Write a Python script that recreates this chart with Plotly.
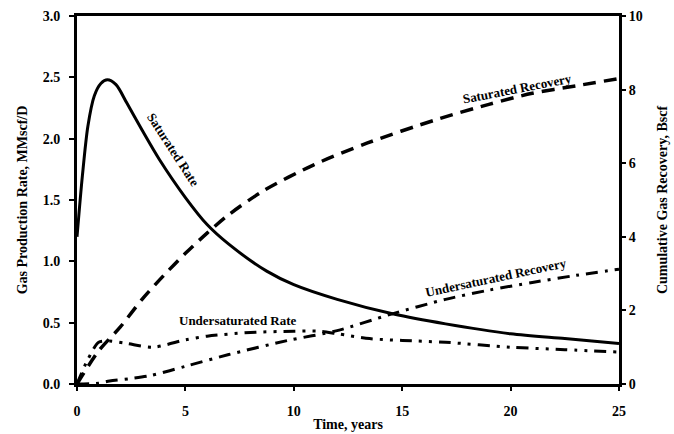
import plotly.graph_objects as go

# ---- data ----
sat_rate_t = [0, 0.25, 0.5, 0.8, 1.1, 1.4, 1.8, 2.3, 3.0, 3.8, 5.0, 6.0, 7.0, 8.75, 10.0, 12.0, 14.6, 17.0, 20.0, 22.5, 25.0]
sat_rate = [1.2, 1.7, 2.1, 2.35, 2.45, 2.48, 2.44, 2.29, 2.07, 1.83, 1.52, 1.30, 1.14, 0.92, 0.81, 0.69, 0.57, 0.49, 0.41, 0.37, 0.33]

sat_rec_t = [0, 1, 2, 3, 4, 5, 6, 7, 8.6, 10.9, 13.4, 16.5, 19, 21, 23, 25]
sat_rec = [0, 0.9, 1.55, 2.3, 2.95, 3.55, 4.1, 4.6, 5.25, 5.95, 6.55, 7.17, 7.6, 7.9, 8.1, 8.3]

und_rate_t = [0, 0.5, 1, 1.5, 2.3, 3.5, 5, 6, 8, 10, 11.2, 12, 13.5, 15, 17, 20, 22.5, 25]
und_rate = [0, 0.2, 0.34, 0.35, 0.33, 0.30, 0.36, 0.39, 0.42, 0.43, 0.43, 0.41, 0.37, 0.355, 0.34, 0.30, 0.28, 0.26]

und_rec_t = [0, 1, 1.5, 2.5, 3.4, 5, 7, 9.7, 12, 14.5, 17, 19, 21, 23, 25]
und_rec = [0, 0.02, 0.08, 0.15, 0.23, 0.48, 0.8, 1.18, 1.45, 1.9, 2.3, 2.55, 2.76, 2.95, 3.12]

x_ticks = [0, 5, 10, 15, 20, 25]
y_ticks = [0.0, 0.5, 1.0, 1.5, 2.0, 2.5, 3.0]
y2_ticks = [0, 2, 4, 6, 8, 10]

FONT = "Liberation Serif"
BLACK = "#000000"

fig = go.Figure()
fig.add_trace(go.Scatter(x=sat_rate_t, y=sat_rate, mode="lines",
                         line=dict(color=BLACK, width=3, shape="spline", smoothing=0.8),
                         yaxis="y", showlegend=False))
fig.add_trace(go.Scatter(x=und_rate_t, y=und_rate, mode="lines",
                         line=dict(color=BLACK, width=3, shape="spline", smoothing=0.8,
                                   dash="12px,7px,3px,7px,3px,7px"),
                         yaxis="y", showlegend=False))
fig.add_trace(go.Scatter(x=sat_rec_t, y=sat_rec, mode="lines",
                         line=dict(color=BLACK, width=3.5, shape="spline", smoothing=0.8,
                                   dash="13px,8px"),
                         yaxis="y2", showlegend=False))
fig.add_trace(go.Scatter(x=und_rec_t, y=und_rec, mode="lines",
                         line=dict(color=BLACK, width=3, shape="spline", smoothing=0.8,
                                   dash="12px,7px,3px,7px"),
                         yaxis="y2", showlegend=False))

tickfont = dict(family=FONT, size=14, color=BLACK, weight="bold")
titlefont = dict(family=FONT, size=14, color=BLACK, weight="bold")
ann_font = dict(family=FONT, size=13, color=BLACK, weight="bold")

fig.update_layout(
    width=674, height=434,
    margin=dict(l=77, r=55, t=16, b=50),
    paper_bgcolor="white", plot_bgcolor="white",
    xaxis=dict(range=[0, 25], tickvals=x_ticks, ticktext=[str(v) for v in x_ticks],
               showgrid=False, zeroline=False, showline=True, linecolor=BLACK, linewidth=3,
               mirror=True, ticks="outside", ticklen=4, tickwidth=2, tickcolor=BLACK,
               tickfont=tickfont, ticklabelstandoff=8, automargin=False,
               title=dict(text="Time, years", font=titlefont, standoff=2)),
    yaxis=dict(range=[0, 3.0], tickvals=y_ticks, ticktext=[f"{v:.1f}" for v in y_ticks],
               showgrid=False, zeroline=False, showline=True, linecolor=BLACK, linewidth=3,
               ticks="outside", ticklen=5, tickwidth=2, tickcolor=BLACK,
               tickfont=tickfont, ticklabelstandoff=6, automargin=False,
               title=dict(text="Gas Production Rate, MMscf/D", font=titlefont, standoff=12)),
    yaxis2=dict(range=[0, 10], tickvals=y2_ticks, ticktext=[str(v) for v in y2_ticks],
                overlaying="y", side="right", anchor="x",
                showgrid=False, zeroline=False, showline=True, linecolor=BLACK, linewidth=3,
                ticks="outside", ticklen=4, tickwidth=2, tickcolor=BLACK,
                tickfont=tickfont, automargin=False,
                title=dict(text="Cumulative Gas Recovery, Bscf", font=titlefont, standoff=16)),
    annotations=[
        dict(x=4.43, y=1.91, xref="x", yref="y", text="Saturated Rate", showarrow=False,
             textangle=57, font=ann_font),
        dict(x=20.34, y=2.405, xref="x", yref="y", text="Saturated Recovery", showarrow=False,
             textangle=-11, font=ann_font),
        dict(x=7.43, y=0.52, xref="x", yref="y", text="Undersaturated Rate", showarrow=False,
             textangle=0, font=ann_font),
        dict(x=19.33, y=0.87, xref="x", yref="y", text="Undersaturated Recovery", showarrow=False,
             textangle=-12, font=ann_font),
    ],
)

fig.write_html("out.html")
